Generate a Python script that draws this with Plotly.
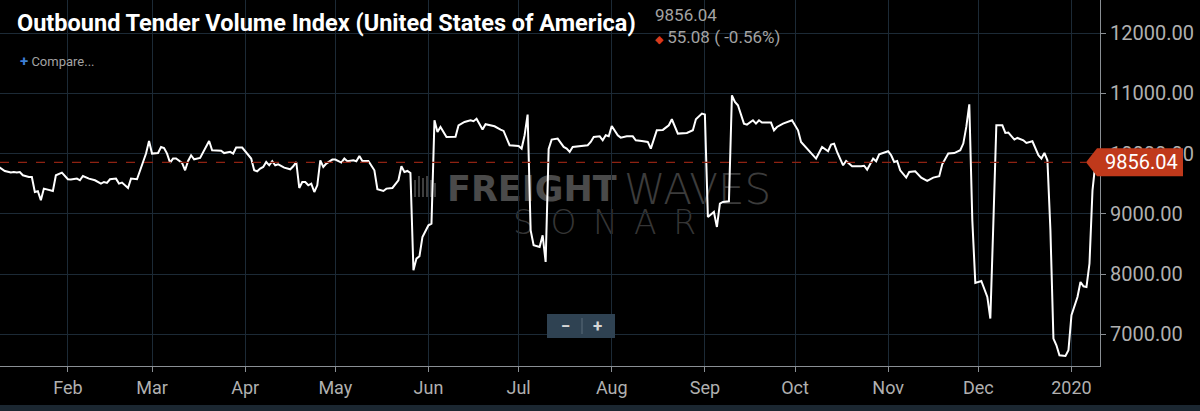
import pandas as pd
import plotly.graph_objects as go

# ---------------- data ----------------
start_date = "2019-01-09"
day_offsets = [
    0, 2, 4, 5, 6, 7, 8, 10, 11, 12, 13, 14, 15, 17, 18, 19, 21, 23, 24, 26,
    27, 28, 30, 32, 34, 35, 36, 37, 39, 40, 41, 43, 44, 46, 47, 49, 50, 51, 53, 54,
    55, 56, 57, 58, 59, 61, 62, 63, 64, 65, 67, 68, 70, 71, 74, 75, 77, 78, 79, 81,
    83, 84, 85, 86, 87, 88, 89, 90, 91, 92, 93, 95, 97, 98, 99, 100, 101, 102, 103, 104,
    105, 106, 107, 108, 109, 111, 112, 114, 115, 116, 118, 119, 120, 121, 123, 125, 126, 128, 129, 131,
    133, 134, 135, 136, 137, 138, 139, 140, 141, 143, 144, 145, 146, 147, 149, 152, 153, 155, 157, 158,
    159, 161, 162, 165, 167, 168, 170, 173, 174, 175, 176, 177, 178, 180, 181, 182, 183, 184, 186, 188,
    189, 190, 191, 193, 196, 197, 198, 200, 201, 202, 203, 204, 206, 207, 209, 211, 212, 214, 216, 217,
    219, 221, 223, 224, 226, 229, 231, 232, 234, 235, 236, 238, 239, 240, 241, 243, 244, 245, 246, 248,
    249, 251, 252, 253, 254, 257, 258, 259, 261, 264, 266, 267, 269, 272, 274, 276, 277, 278, 279, 281,
    282, 284, 287, 288, 289, 291, 292, 293, 296, 297, 298, 299, 300, 302, 303, 305, 307, 309, 311, 313,
    314, 316, 318, 320, 321, 322, 323, 324, 325, 327, 329, 330, 331, 332, 334, 335, 336, 338, 339, 341,
    342, 344, 346, 347, 348, 349, 350, 351, 352, 353, 355, 356, 357, 359, 360, 361, 362, 363, 364, 365,
]
index_values = [
    9780, 9713, 9686, 9696, 9686, 9696, 9641, 9613, 9613, 9364, 9376, 9226, 9420, 9392, 9381, 9641, 9686, 9575, 9570, 9586,
    9558, 9630, 9586, 9558, 9503, 9530, 9514, 9575, 9586, 9503, 9520, 9431, 9586, 9575, 9724, 10002, 10211, 10002, 10012, 10112,
    10095, 10002, 9852, 9919, 9919, 9846, 9724, 9879, 9974, 9907, 9929, 10029, 10211, 10057, 10050, 10010, 10030, 10002, 10101, 10101,
    9974, 9919, 9724, 9708, 9752, 9779, 9862, 9807, 9874, 9807, 9824, 9769, 9741, 9791, 9862, 9431, 9530, 9530, 9475, 9503,
    9364, 9475, 9890, 9779, 9835, 9902, 9902, 9852, 9919, 9874, 9890, 9874, 9963, 9879, 9879, 9724, 9409, 9381, 9420, 9431,
    9558, 9791, 9696, 9713, 9680, 8064, 8257, 8296, 8617, 8811, 8839, 10555, 10361, 10444, 10278, 10280, 10470, 10527, 10555, 10540,
    10580, 10400, 10489, 10455, 10400, 10378, 10140, 10128, 10085, 10306, 10650, 8728, 8479, 8451, 8645, 8201, 10080, 10234, 10251, 10112,
    10085, 10029, 10112, 10123, 10140, 10195, 10278, 10289, 10223, 10306, 10290, 10461, 10306, 10267, 10289, 10289, 10223, 10211, 10195, 10085,
    10389, 10395, 10472, 10572, 10334, 10344, 10389, 10572, 10666, 10650, 8949, 9032, 8783, 9171, 9199, 9210, 10970, 10859, 10804, 10500,
    10483, 10555, 10500, 10555, 10517, 10517, 10389, 10444, 10500, 10555, 10389, 10195, 10085, 9919, 10112, 10040, 10151, 10167, 10029, 9807,
    9879, 9791, 9791, 9800, 9735, 9919, 9874, 9990, 10040, 9974, 9862, 9879, 9724, 9603, 9696, 9708, 9603, 9547, 9603, 9625,
    9824, 10002, 10010, 10057, 10168, 10444, 10821, 8900, 7853, 7886, 7620, 7261, 8839, 10472, 10472, 10344, 10350, 10234, 10261, 10223,
    10178, 10206, 9974, 9919, 10012, 9890, 8728, 6929, 6818, 6652, 6641, 6735, 7316, 7620, 7869, 7797, 7786, 8175, 9392, 9856.04,
]
month_ticks = ["2019-02-01", "2019-03-01", "2019-04-01", "2019-05-01", "2019-06-01", "2019-07-01",
               "2019-08-01", "2019-09-01", "2019-10-01", "2019-11-01", "2019-12-01", "2020-01-01"]
month_labels = ["Feb", "Mar", "Apr", "May", "Jun", "Jul", "Aug", "Sep", "Oct", "Nov", "Dec", "2020"]
y_ticks = [7000, 8000, 9000, 10000, 11000, 12000]
title_text = "Outbound Tender Volume Index (United States of America)"
change_abs = 55.08
change_pct = -0.56

last_value = index_values[-1]
dates = pd.Timestamp(start_date) + pd.to_timedelta(day_offsets, unit="D")

# ---------------- layout geometry ----------------
W, H = 1200, 411
ML, MR, MT, MB = 0, 100, 0, 45
PW, PH = W - ML - MR, H - MT - MB
y_range = [6473, 12553]
upp = (y_range[1] - y_range[0]) / PH  # data units per pixel


def px(x):
    return (x - ML) / PW


def py(y):
    return 1 - (y - MT) / PH


GRID = "#1c2a36"
AXIS = "#8a8f94"
TICKFONT = "#b0b0b0"
TAG = "#c0391b"

fig = go.Figure()
fig.add_trace(go.Scatter(
    x=dates, y=index_values, mode="lines",
    line=dict(color="#ffffff", width=2), hoverinfo="skip", showlegend=False,
))

shapes = []
# dashed last-value line
shapes.append(dict(type="line", xref="paper", yref="y", x0=0, x1=px(1086),
                   y0=last_value, y1=last_value,
                   line=dict(color="#8e2212", width=1.3, dash="dash"), layer="above"))
# price tag
half = 14 * upp
tag_path = (f"M {px(1086)},{last_value} L {px(1097)},{last_value + half} "
            f"L {px(1183)},{last_value + half} L {px(1183)},{last_value - half} "
            f"L {px(1097)},{last_value - half} Z")
shapes.append(dict(type="path", xref="paper", yref="y", path=tag_path,
                   fillcolor=TAG, line=dict(width=0), layer="above"))
# zoom buttons
shapes.append(dict(type="rect", xref="paper", yref="paper", x0=px(547), x1=px(615),
                   y0=py(338), y1=py(314), fillcolor="#2f4252", line=dict(width=0), layer="above"))
shapes.append(dict(type="line", xref="paper", yref="paper", x0=px(582), x1=px(582),
                   y0=py(334), y1=py(318), line=dict(color="#5a6b78", width=1), layer="above"))
# bottom strip
shapes.append(dict(type="rect", xref="paper", yref="paper", x0=px(0), x1=px(1200),
                   y0=py(411), y1=py(405), fillcolor="#1b2731", line=dict(width=0), layer="above"))
# watermark (below the line)
shapes.append(dict(type="rect", xref="paper", yref="paper", x0=px(441), x1=px(622),
                   y0=py(200), y1=py(172), fillcolor="rgba(0,0,0,0)", line=dict(width=0),
                   layer="below",
                   label=dict(text="FREIGHT", textposition="middle left",
                              font=dict(family="DejaVu Sans", size=35, color="#4a4a4a", weight="bold"))))
shapes.append(dict(type="rect", xref="paper", yref="paper", x0=px(618), x1=px(790),
                   y0=py(200), y1=py(172), fillcolor="rgba(0,0,0,0)", line=dict(width=0),
                   layer="below",
                   label=dict(text="WAVES", textposition="middle left",
                              font=dict(family="DejaVu Sans", size=42, color="#3c3c3c", weight=200))))
shapes.append(dict(type="rect", xref="paper", yref="paper", x0=px(507), x1=px(695),
                   y0=py(236), y1=py(204), fillcolor="rgba(0,0,0,0)", line=dict(width=0),
                   layer="below",
                   label=dict(text="S\u2002O\u2002N\u2002A\u2002R", textposition="middle left",
                              font=dict(family="DejaVu Sans", size=33, color="#353535", weight=200))))
for bx, bt in [(414, 180), (418, 176), (422, 178), (426, 176), (430, 180), (434, 183)]:
    shapes.append(dict(type="rect", xref="paper", yref="paper", x0=px(bx), x1=px(bx + 2),
                       y0=py(197), y1=py(bt), fillcolor="#3f3f3f", line=dict(width=0), layer="below"))

quote_text = (f"{last_value:.2f}<br>"
              f"<span style='color:#d8391c;font-size:11px'>◆</span> {change_abs:.2f} ( {change_pct:.2f}%)")

annotations = [
    dict(text=title_text, xref="paper", yref="paper", x=px(15), y=py(23),
         xanchor="left", yanchor="middle", showarrow=False,
         font=dict(family="Roboto", size=23.5, color="#ffffff", weight="bold")),
    dict(text=quote_text, xref="paper", yref="paper", x=px(653), y=py(26),
         xanchor="left", yanchor="middle", align="left", showarrow=False,
         font=dict(family="Roboto", size=17, color="#a3a3a3")),
    dict(text="<span style='color:#3d7fd6;font-size:15px'><b>+</b></span> Compare...",
         xref="paper", yref="paper", x=px(18), y=py(61),
         xanchor="left", yanchor="middle", showarrow=False,
         font=dict(family="Roboto", size=13, color="#a3a3a3")),
    dict(text=f"{last_value:.2f}", xref="paper", yref="y", x=px(1141), y=last_value,
         xanchor="center", yanchor="middle", showarrow=False,
         font=dict(family="Roboto", size=20, color="#ffffff")),
    dict(text="<b>−</b>", xref="paper", yref="paper", x=px(565), y=py(326),
         xanchor="center", yanchor="middle", showarrow=False,
         font=dict(family="Roboto", size=17, color="#d6d6d6")),
    dict(text="<b>+</b>", xref="paper", yref="paper", x=px(598), y=py(326),
         xanchor="center", yanchor="middle", showarrow=False,
         font=dict(family="Roboto", size=17, color="#d6d6d6")),
]

fig.update_layout(
    width=W, height=H,
    margin=dict(l=ML, r=MR, t=MT, b=MB, pad=0),
    paper_bgcolor="#000000", plot_bgcolor="#000000",
    showlegend=False, hovermode=False,
    shapes=shapes, annotations=annotations,
    font=dict(family="Roboto", color=TICKFONT),
    xaxis=dict(
        type="date", range=["2019-01-09 09:36", "2020-01-10 12:00"],
        tickvals=month_ticks, ticktext=month_labels,
        showgrid=True, gridcolor=GRID, gridwidth=1,
        showline=True, linecolor=AXIS, linewidth=1,
        ticks="outside", ticklen=5, tickcolor=AXIS,
        tickfont=dict(family="Roboto", size=18, color=TICKFONT),
        zeroline=False, fixedrange=True,
    ),
    yaxis=dict(
        side="right", range=y_range,
        tickvals=y_ticks, ticktext=[f"{v:.2f}" for v in y_ticks],
        showgrid=True, gridcolor=GRID, gridwidth=1,
        showline=True, linecolor=AXIS, linewidth=1,
        ticks="outside", ticklen=5, tickcolor=AXIS,
        tickfont=dict(family="Roboto", size=20, color=TICKFONT),
        zeroline=False, fixedrange=True,
    ),
)

fig.write_html(
    "out.html",
    config={"displayModeBar": False},
    post_script="document.body.style.margin='0';document.body.style.background='#000';document.body.style.overflow='hidden';",
)
